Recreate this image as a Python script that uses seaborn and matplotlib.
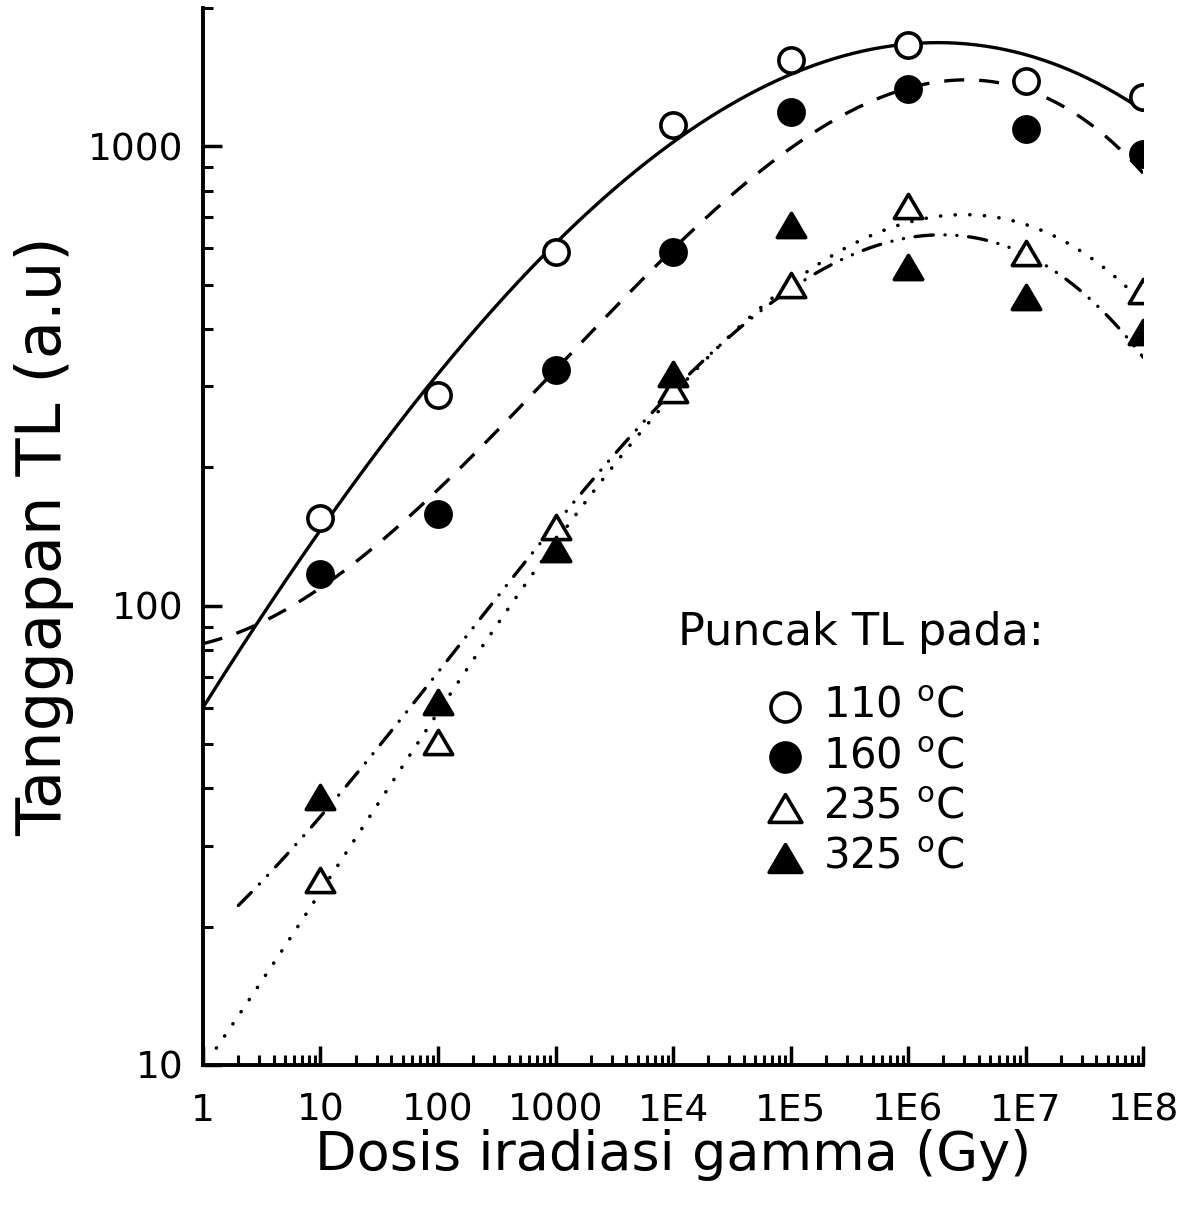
import numpy as np
import pandas as pd
import matplotlib
matplotlib.use("Agg")
import matplotlib.pyplot as plt
from matplotlib.path import Path
import seaborn as sns
from matplotlib.ticker import LogLocator, FixedLocator, FixedFormatter, NullFormatter

sns.set_theme(style="ticks")
plt.rcParams["font.family"] = ["DejaVu Sans"]
plt.rcParams["mathtext.fontset"] = "dejavusans"
for key in ["text.color", "axes.labelcolor", "xtick.color", "ytick.color", "axes.edgecolor"]:
    plt.rcParams[key] = "black"

# Dose (Gy) and TL response (a.u.) for each glow peak
dose = [1e1, 1e2, 1e3, 1e4, 1e5, 1e6, 1e7, 1e8]
peak_110 = [155, 288, 590, 1112, 1538, 1660, 1386, 1279]
peak_160 = [117, 158, 325, 590, 1186, 1331, 1089, 961]
peak_235 = [25.3, 50.5, 148, 294, 500, 740, 585, 483]
peak_325 = [38.4, 61.8, 133, 320, 673, 545, 469, 394]

series_labels = ["110 $^{\\mathrm{o}}$C", "160 $^{\\mathrm{o}}$C",
                 "235 $^{\\mathrm{o}}$C", "325 $^{\\mathrm{o}}$C"]
x_tick_values = [1, 10, 100, 1000, 1e4, 1e5, 1e6, 1e7, 1e8]
x_tick_labels = ["1", "10", "100", "1000", "1E4", "1E5", "1E6", "1E7", "1E8"]
y_tick_values = [10, 100, 1000]
y_tick_labels = ["10", "100", "1000"]

# slightly flattened triangle marker
tri = Path([(0, 0.85), (-1, -0.85), (1, -0.85), (0, 0.85)],
           [Path.MOVETO, Path.LINETO, Path.LINETO, Path.CLOSEPOLY])

# Styles per series: marker, face, line dashes, cap style, curve start dose
styles = [
    dict(marker="o", face="white", dashes=None, cap="butt", lw=2.4, start=1.0),
    dict(marker="o", face="black", dashes=(6, 4.5), cap="butt", lw=2.4, start=1.0),
    dict(marker=tri, face="white", dashes=(0.05, 4.0), cap="round", lw=2.6, start=1.3),
    dict(marker=tri, face="black", dashes=(5.5, 3.5, 0.05, 3.5, 0.05, 3.5), cap="round",
         lw=2.4, start=2.0),
]
all_series = [peak_110, peak_160, peak_235, peak_325]

fig = plt.figure(figsize=(11.87, 12.05), dpi=100)
ax = fig.add_axes([0.171, 0.1162, 0.963 - 0.171, 0.9934 - 0.1162])

lx = np.log10(dose)
handles = []
for vals, st, lab in zip(all_series, styles, series_labels):
    # cubic fit of log response against log dose
    coef = np.polyfit(lx, np.log10(vals), 3)
    xs = np.linspace(np.log10(st["start"]), 8, 400)
    curve = pd.DataFrame({"x": 10 ** xs, "y": 10 ** np.polyval(coef, xs)})
    curve = curve[curve["y"] >= 10]
    sns.lineplot(data=curve, x="x", y="y", ax=ax, color="black", lw=st["lw"])
    ln = ax.lines[-1]
    if st["dashes"] is not None:
        ln.set_dashes(st["dashes"])
    ln.set_dash_capstyle(st["cap"])
    size = 330 if st["marker"] == "o" else 420
    sc = ax.scatter(dose, vals, marker=st["marker"], s=size,
                    facecolor=st["face"], edgecolor="black", linewidths=2.6,
                    zorder=5, label=lab)
    handles.append(sc)

ax.set_xscale("log")
ax.set_yscale("log")
ax.set_xlim(1, 1e8)
ax.set_ylim(10, 2000)

ax.xaxis.set_major_locator(FixedLocator(x_tick_values))
ax.xaxis.set_major_formatter(FixedFormatter(x_tick_labels))
ax.xaxis.set_minor_locator(LogLocator(base=10, subs=np.arange(2, 10), numticks=20))
ax.xaxis.set_minor_formatter(NullFormatter())
ax.yaxis.set_major_locator(FixedLocator(y_tick_values))
ax.yaxis.set_major_formatter(FixedFormatter(y_tick_labels))
ax.yaxis.set_minor_locator(LogLocator(base=10, subs=np.arange(2, 10), numticks=20))
ax.yaxis.set_minor_formatter(NullFormatter())

ax.tick_params(which="major", direction="in", length=14, width=2.5, labelsize=27)
ax.tick_params(axis="x", which="major", pad=20)
ax.tick_params(axis="y", which="major", pad=14)
ax.tick_params(which="minor", direction="in", length=7, width=2.2)
for side in ["top", "right"]:
    ax.spines[side].set_visible(False)
for side in ["left", "bottom"]:
    ax.spines[side].set_linewidth(2.8)

ax.set_xlabel("Dosis iradiasi gamma (Gy)", fontsize=39, labelpad=0)
ax.set_ylabel("Tanggapan TL (a.u)", fontsize=45, labelpad=10)

leg = ax.legend(handles=handles, labels=series_labels, title="Puncak TL pada:",
                frameon=False, loc="center", bbox_to_anchor=(0.70, 0.303),
                fontsize=30, title_fontsize=32, handlelength=1.3, handletextpad=0.25,
                labelspacing=0.2, markerscale=1.15, borderpad=0)
leg._legend_box.sep = 22

fig.savefig("out.png", dpi=100, facecolor="white")
